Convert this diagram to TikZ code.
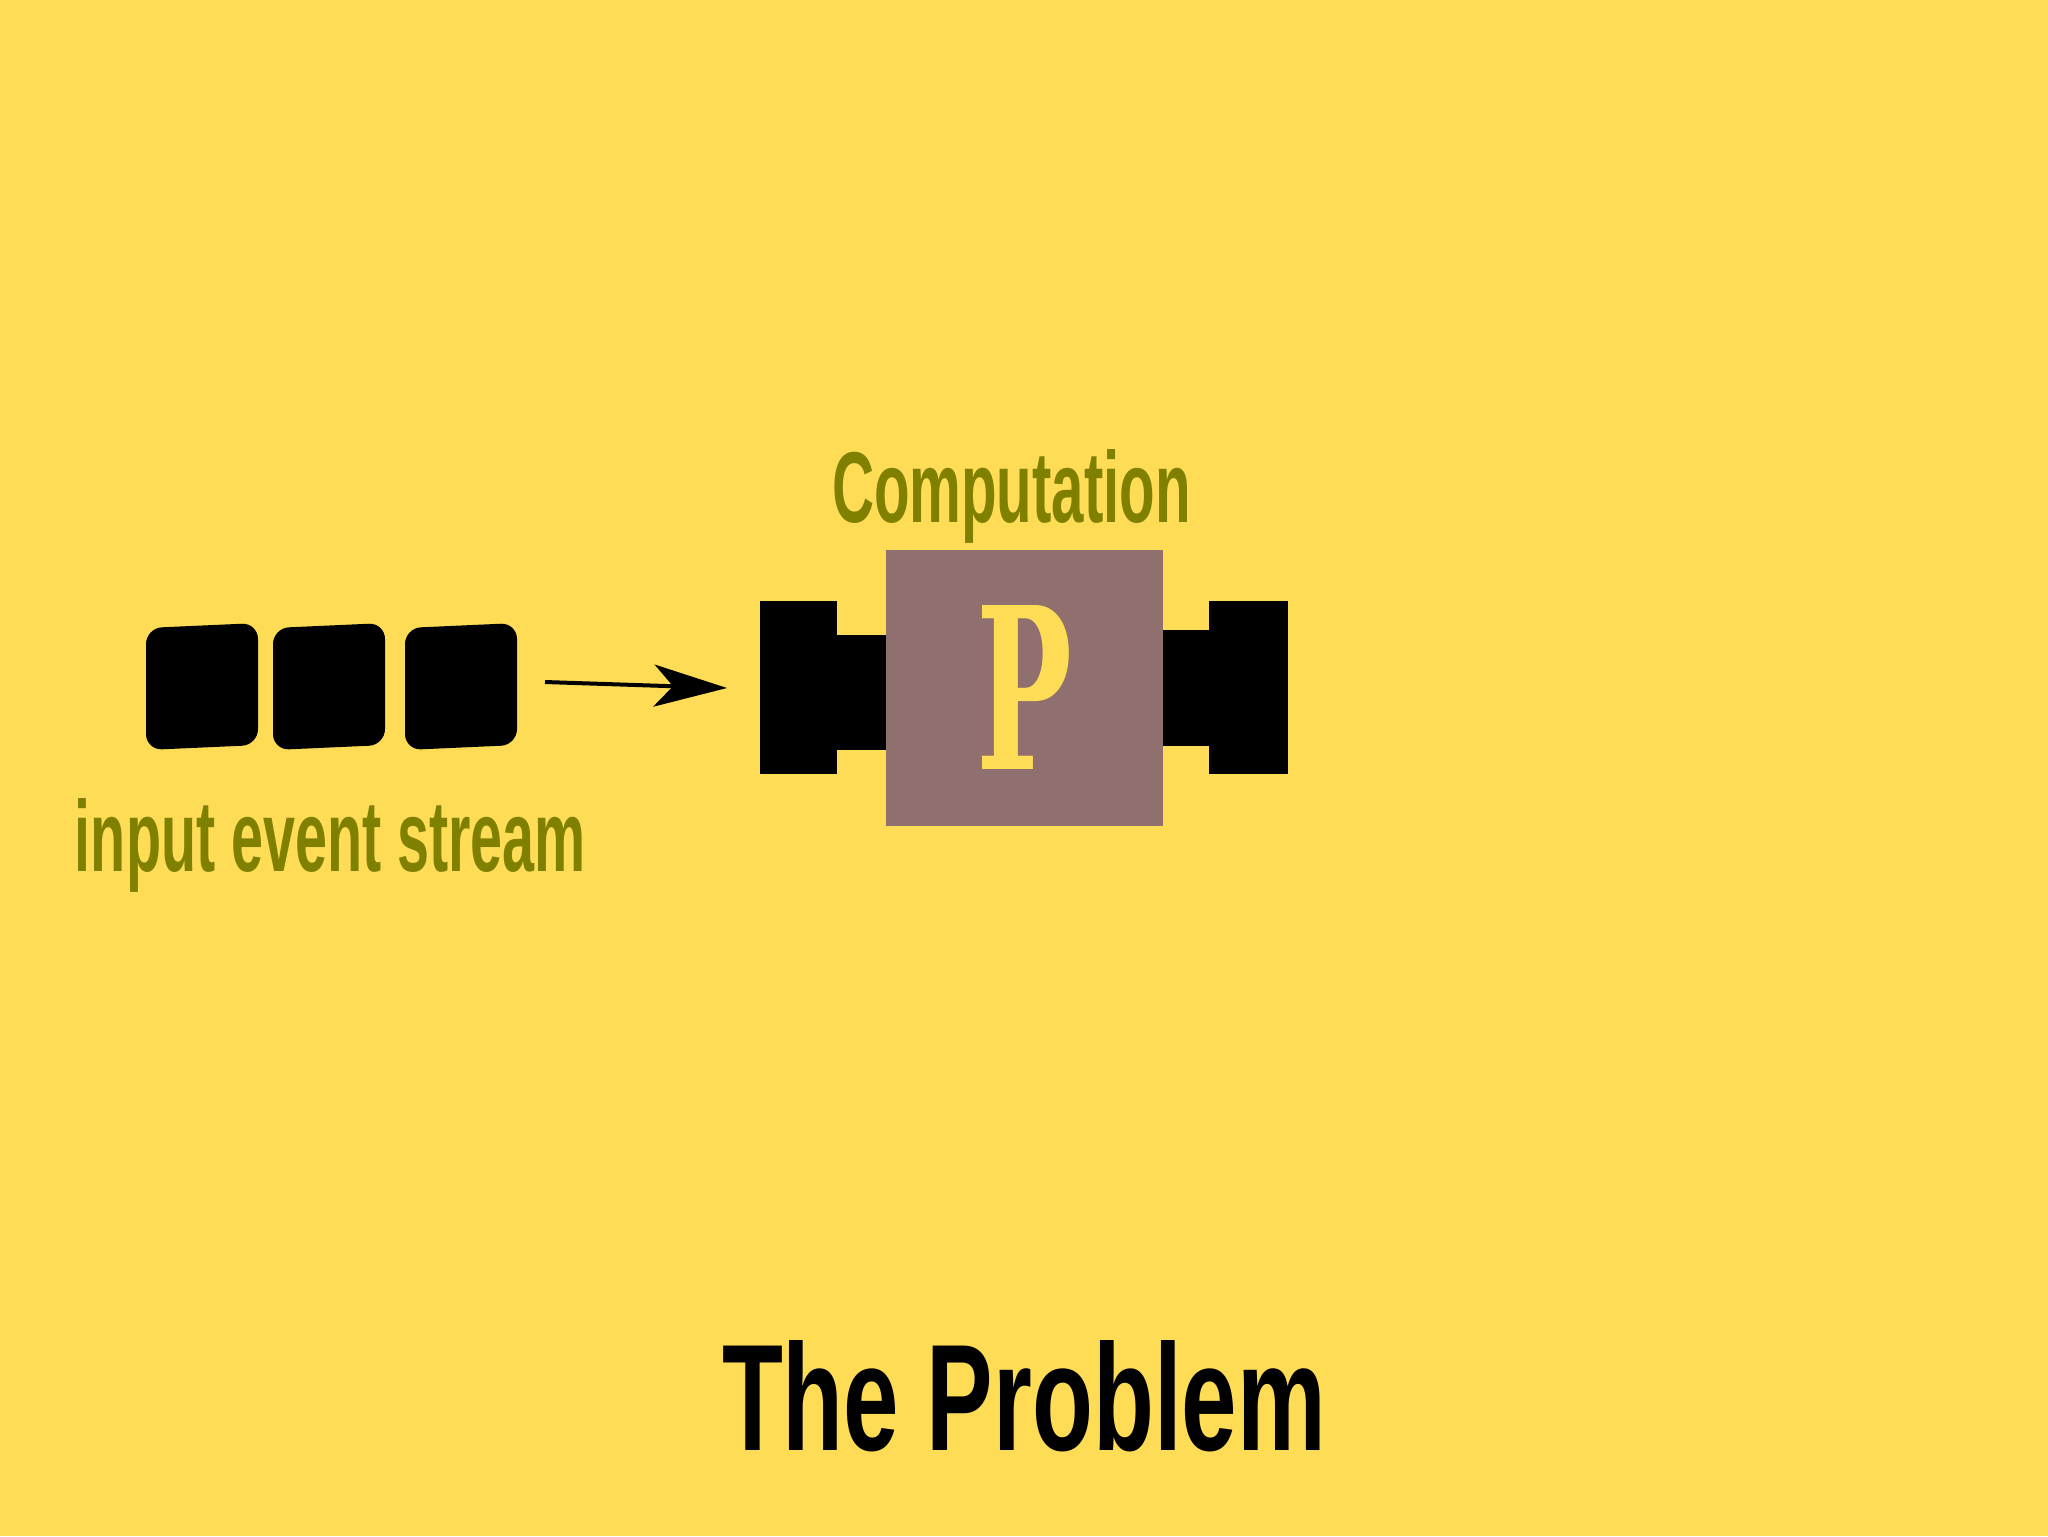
\documentclass[tikz,border=0pt]{standalone}
\usepackage{graphicx}
\usepackage{fontspec}
\setmainfont{Liberation Sans}
\newfontfamily\pfont{DejaVu Serif}
\usetikzlibrary{arrows.meta}
\definecolor{bgyellow}{RGB}{254,220,86}
\definecolor{olive}{RGB}{128,128,0}
\definecolor{boxcol}{RGB}{144,111,111}
\tikzset{
  label text/.style={inner sep=0pt, outer sep=0pt, anchor=base west},
  event/.style={fill=black, rounded corners=1.6mm},
  plug/.style={fill=black},
  flow/.style={line width=0.4mm, -{Stealth[length=7.3mm, width=4.2mm, inset=1.9mm]}},
}
\begin{document}
\begin{tikzpicture}[x=0.1mm, y=-0.1mm]
\fill[bgyellow] (0,0) rectangle (2048,1536);
\useasboundingbox (0,0) rectangle (2048,1536);

% input event blocks
\fill[event] (146,628) -- (258,623) -- (258,745) -- (146,750) -- cycle;
\fill[event] (273,628) -- (385,623) -- (385,745) -- (273,750) -- cycle;
\fill[event] (405,628) -- (517,623) -- (517,745) -- (405,750) -- cycle;

\node[label text, text=olive] (inlabel) at (75,871)
  {\resizebox{51.1mm}{7.3mm}{\bfseries input event stream}};

% arrow
\coordinate (arrstart) at (545,682);
\coordinate (arrend) at (727,688);
\draw[flow] (arrstart) -- (arrend);

% plugs
\fill[plug] (760,601) rectangle (837,774);
\fill[plug] (836,635) rectangle (887,750);
\fill[plug] (1161,630) rectangle (1210,746);
\fill[plug] (1209,601) rectangle (1288,774);

% computation box
\node[fill=boxcol, minimum width=27.7mm, minimum height=27.6mm, inner sep=0pt] (comp) at (1024,687.5) {};
\node[label text, text=bgyellow] (pletter) at (976,769)
  {\resizebox{9.6mm}{16.4mm}{\pfont\bfseries P}};

\node[label text, text=olive] (complabel) at (832,522)
  {\resizebox{35.9mm}{7.3mm}{\bfseries Computation}};

% title
\node[label text, text=black] (title) at (722,1450)
  {\resizebox{60.4mm}{11mm}{\bfseries The Problem}};
\end{tikzpicture}
\end{document}
